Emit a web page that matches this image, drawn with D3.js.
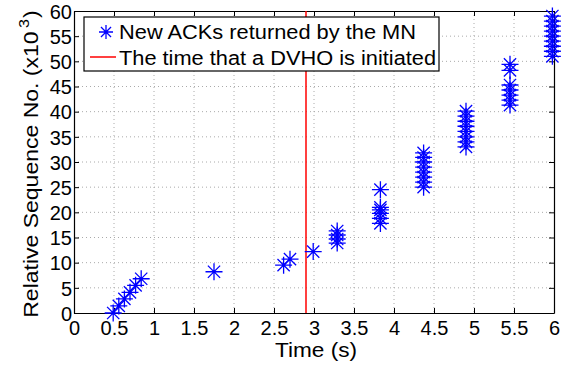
<!DOCTYPE html>
<html>
<head>
<meta charset="utf-8">
<script src="https://cdn.jsdelivr.net/npm/d3@7"></script>
<style>
body { margin: 0; background: #fff; }
text { font-family: "Liberation Sans", Arial, Helvetica, sans-serif; }
</style>
</head>
<body>
<script>
// time (s) of each new ACK and its relative sequence no. (x10^3)
const ack_times = [0.49, 0.56, 0.63, 0.70, 0.77, 0.84,
    1.75,
    2.62, 2.70,
    2.99,
    3.29, 3.29, 3.29, 3.29,
    3.83, 3.83, 3.83, 3.83, 3.83, 3.83,
    4.37, 4.37, 4.37, 4.37, 4.37, 4.37, 4.37, 4.37,
    4.90, 4.90, 4.90, 4.90, 4.90, 4.90, 4.90, 4.90,
    5.45, 5.45, 5.45, 5.45, 5.45, 5.45, 5.45,
    5.98, 5.98, 5.98, 5.98, 5.98, 5.98, 5.98, 5.98, 5.98]
const ack_seq = [0, 1.4, 2.8, 4.1, 5.5, 6.8,
    8.2,
    9.5, 10.7,
    12.2,
    13.9, 14.7, 15.5, 16.3,
    17.8, 18.8, 19.8, 20.5, 21.0, 24.5,
    25.0, 26.0, 27.0, 28.0, 29.0, 30.0, 30.9, 31.8,
    33.0, 34.0, 35.0, 36.1, 37.1, 38.1, 39.1, 40.1,
    41.3, 42.3, 43.3, 44.3, 45.3, 48.2, 49.4,
    51.0, 52.0, 53.0, 54.0, 55.0, 56.0, 57.0, 58.0, 59.0]
const dvho_time = 2.9
const x_ticks = [0, 0.5, 1, 1.5, 2, 2.5, 3, 3.5, 4, 4.5, 5, 5.5, 6]
const y_ticks = [0, 5, 10, 15, 20, 25, 30, 35, 40, 45, 50, 55, 60]
const legend_labels = ["New ACKs returned by the MN", "The time that a DVHO is initiated"]

const width = 574, height = 370
const plot_left = 74, plot_right = 554, plot_top = 11, plot_bottom = 313
const fontSize = 20

const svg = d3.select("body").append("svg").attr("width", width).attr("height", height)

const x = d3.scaleLinear().domain([0, 6]).range([plot_left, plot_right])
const y = d3.scaleLinear().domain([0, 60]).range([plot_bottom, plot_top])

// dotted grid
svg.append("g").selectAll("line").data(x_ticks.slice(1, -1)).enter().append("line")
    .attr("x1", d => x(d)).attr("x2", d => x(d))
    .attr("y1", plot_top).attr("y2", plot_bottom)
    .attr("stroke", "#aaa").attr("stroke-width", 1).attr("stroke-dasharray", "1,3")
svg.append("g").selectAll("line").data(y_ticks.slice(1, -1)).enter().append("line")
    .attr("y1", d => y(d)).attr("y2", d => y(d))
    .attr("x1", plot_left).attr("x2", plot_right)
    .attr("stroke", "#aaa").attr("stroke-width", 1).attr("stroke-dasharray", "1,3")

// axes with inward ticks, MATLAB box style
const xAxis = svg.append("g").attr("transform", `translate(0,${plot_bottom})`)
    .call(d3.axisBottom(x).tickValues(x_ticks).tickFormat(d3.format("")).tickSizeInner(-5).tickSizeOuter(0))
const yAxis = svg.append("g").attr("transform", `translate(${plot_left},0)`)
    .call(d3.axisLeft(y).tickValues(y_ticks).tickSizeInner(-5).tickSizeOuter(0))
svg.append("g").attr("transform", `translate(0,${plot_top})`)
    .call(d3.axisTop(x).tickValues(x_ticks).tickFormat("").tickSizeInner(-5).tickSizeOuter(0))
svg.append("g").attr("transform", `translate(${plot_right},0)`)
    .call(d3.axisRight(y).tickValues(y_ticks).tickFormat("").tickSizeInner(-5).tickSizeOuter(0))
svg.selectAll(".domain").attr("stroke", "#000").attr("stroke-width", 1.2)
svg.selectAll(".tick line").attr("stroke", "#000")
svg.selectAll(".tick text").attr("font-size", fontSize).attr("fill", "#000")
    .style("font-family", "'Liberation Sans', Arial, sans-serif")
xAxis.selectAll(".tick text").attr("y", 22).attr("dy", 0)
yAxis.selectAll(".tick text").attr("x", -2).attr("dy", "0.36em")

// DVHO line
svg.append("line")
    .attr("x1", x(dvho_time)).attr("x2", x(dvho_time))
    .attr("y1", plot_top).attr("y2", plot_bottom)
    .attr("stroke", "#ff0000").attr("stroke-width", 1.5)

// star marker: plus + cross
function star(g, r) {
    const d = r * 0.72
    g.append("path")
        .attr("d", `M${-r},0H${r}M0,${-r}V${r}M${-d},${-d}L${d},${d}M${-d},${d}L${d},${-d}`)
        .attr("stroke", "#0000ff").attr("stroke-width", 1.3).attr("fill", "none")
}

const points = ack_times.map((t, i) => [t, ack_seq[i]])
svg.append("g").selectAll("g").data(points).enter().append("g")
    .attr("transform", d => `translate(${x(d[0])},${y(d[1])})`)
    .each(function () { star(d3.select(this), 8.5) })

// legend
const lg = svg.append("g")
lg.append("rect").attr("x", 84).attr("y", 17).attr("width", 355).attr("height", 54)
    .attr("fill", "#fff").attr("stroke", "#000").attr("stroke-width", 1.2)
const s = lg.append("g").attr("transform", "translate(106,32)")
star(s, 7)
lg.append("line").attr("x1", 90).attr("x2", 116).attr("y1", 57).attr("y2", 57)
    .attr("stroke", "#ff0000").attr("stroke-width", 1.5)
const legend_widths = [297, 317]
lg.selectAll("text").data(legend_labels).enter().append("text")
    .attr("x", 119).attr("y", (d, i) => 38.5 + i * 26)
    .attr("textLength", (d, i) => legend_widths[i]).attr("lengthAdjust", "spacingAndGlyphs")
    .attr("font-size", fontSize).text(d => d)

// axis labels
svg.append("text").attr("x", 275).attr("y", 357)
    .attr("textLength", 82).attr("lengthAdjust", "spacingAndGlyphs")
    .attr("font-size", fontSize).text("Time (s)")
const yl = svg.append("text").attr("transform", `translate(38,164) rotate(-90) scale(1.15,1)`)
    .attr("text-anchor", "middle").attr("font-size", fontSize)
yl.append("tspan").text("Relative Sequence No. (x10")
yl.append("tspan").attr("font-size", 14).attr("dy", -9).attr("dx", 3).text("3")
yl.append("tspan").attr("dy", 9).attr("dx", 1).text(")")
</script>
</body>
</html>
